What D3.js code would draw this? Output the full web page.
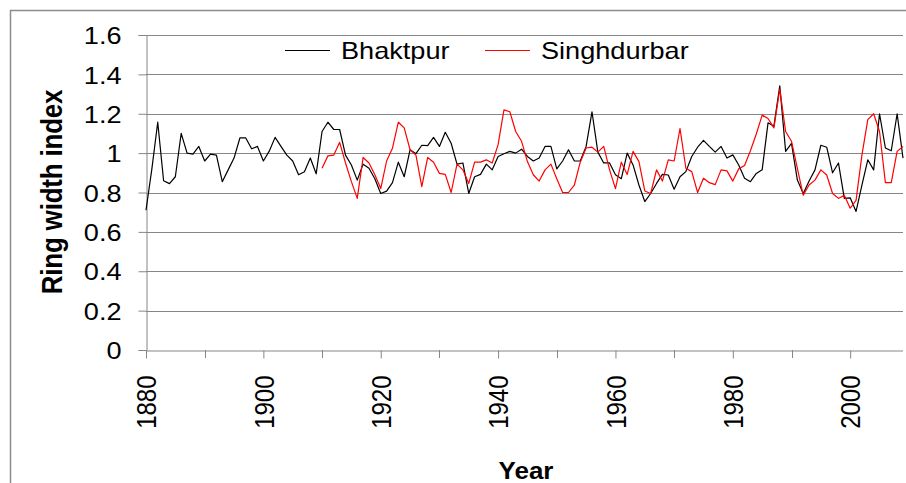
<!DOCTYPE html>
<html>
<head>
<meta charset="utf-8">
<script src="https://cdn.jsdelivr.net/npm/d3@7"></script>
<style>
  body { margin: 0; background: #fff; }
  svg { display: block; font-family: Arial, "Liberation Sans", sans-serif; }
</style>
</head>
<body>
<svg id="chart" width="906" height="483"></svg>
<script>
// Ring width index values
const bhaktpurStart = 1880;
const bhaktpur = [
  0.71, 0.92, 1.157, 0.86, 0.845, 0.88, 1.10, 1.0, 0.995, 1.034,
  0.96, 0.995, 0.99, 0.855, 0.915, 0.975, 1.077, 1.077, 1.022, 1.034,
  0.96, 1.01, 1.08, 1.034, 0.99, 0.96, 0.89, 0.905, 0.975, 0.895,
  1.11, 1.157, 1.12, 1.12, 0.99, 0.94, 0.863, 0.944, 0.923, 0.87,
  0.795, 0.807, 0.85, 0.954, 0.88, 1.017, 0.997, 1.04, 1.038, 1.08,
  1.034, 1.106, 1.05, 0.944, 0.95, 0.795, 0.88, 0.892, 0.944, 0.915,
  0.983, 0.997, 1.009, 1.0, 1.02, 0.983, 0.96, 0.975, 1.034, 1.034,
  0.92, 0.96, 1.017, 0.96, 0.96, 1.034, 1.21, 1.005, 0.95, 0.95,
  0.89, 0.87, 1.0, 0.94, 0.838, 0.754, 0.795, 0.846, 0.892, 0.889,
  0.817, 0.88, 0.906, 0.983, 1.03, 1.065, 1.034, 1.005, 1.034, 0.975,
  0.991, 0.94, 0.872, 0.855, 0.897, 0.915, 1.154, 1.137, 1.342, 1.009,
  1.05, 0.863, 0.795, 0.858, 0.915, 1.04, 1.03, 0.90, 0.95, 0.77,
  0.773, 0.704, 0.838, 0.966, 0.915, 1.2, 1.026, 1.012, 1.2, 0.975
];
const singhdurbarStart = 1910;
const singhdurbar = [
  0.923, 0.986, 0.99, 1.055, 0.95, 0.855, 0.77, 0.978, 0.95, 0.89,
  0.82, 0.96, 1.025, 1.157, 1.128, 1.017, 0.99, 0.83, 0.978, 0.954,
  0.897, 0.892, 0.80, 0.944, 0.915, 0.846, 0.954, 0.954, 0.966, 0.95,
  1.043, 1.22, 1.21, 1.11, 1.06, 0.957, 0.89, 0.858, 0.915, 0.944,
  0.87, 0.80, 0.80, 0.838, 0.954, 1.026, 1.03, 1.005, 1.034, 0.915,
  0.82, 0.954, 0.892, 1.009, 0.957, 0.808, 0.795, 0.915, 0.858, 0.966,
  0.96, 1.125, 0.923, 0.906, 0.80, 0.872, 0.85, 0.84, 0.915, 0.91,
  0.858, 0.92, 0.937, 1.012, 1.097, 1.193, 1.176, 1.128, 1.325, 1.11,
  1.06, 0.923, 0.786, 0.838, 0.863, 0.915, 0.889, 0.795, 0.77, 0.786,
  0.72, 0.76, 0.99, 1.17, 1.2, 1.11, 0.85, 0.85, 1.009, 1.034
];
const yTicks = [0, 0.2, 0.4, 0.6, 0.8, 1, 1.2, 1.4, 1.6];
const xLabels = [1880, 1900, 1920, 1940, 1960, 1980, 2000];
const xMinor = [1890, 1910, 1930, 1950, 1970, 1990];
const seriesNames = ["Bhaktpur", "Singhdurbar"];
const seriesColors = ["#000000", "#ff0000"];

const svg = d3.select("#chart");
const plotLeft = 146, plotRight = 903, plotTop = 35, plotBottom = 350;
const stretch = 1.13; // the original text looks a bit wide

const x = d3.scaleLinear().domain([1880, 2009]).range([plotLeft, plotRight]);
const y = d3.scaleLinear().domain([0, 1.6]).range([plotBottom, plotTop]);

// outer frame (cut off at right and bottom like the original)
svg.append("rect")
  .attr("x", 10.5).attr("y", 10.5)
  .attr("width", 920).attr("height", 500)
  .attr("fill", "none")
  .attr("stroke", "#8c8c8c")
  .attr("stroke-width", 1.5);

// horizontal gridlines
svg.append("g")
  .selectAll("line")
  .data(yTicks.filter(d => d > 0))
  .join("line")
  .attr("x1", plotLeft).attr("x2", plotRight)
  .attr("y1", d => Math.round(y(d)) + 0.5)
  .attr("y2", d => Math.round(y(d)) + 0.5)
  .attr("stroke", "#868686")
  .attr("stroke-width", 1);

// y axis
const yAxis = svg.append("g")
  .attr("transform", `translate(${plotLeft + 0.5},0)`)
  .call(d3.axisLeft(y).tickValues(yTicks).tickFormat(d3.format("~g")).tickSize(8));
yAxis.select(".domain").attr("stroke", "#868686");
yAxis.selectAll(".tick line").attr("stroke", "#868686");
yAxis.selectAll(".tick text")
  .attr("font-size", 24)
  .attr("fill", "#000")
  .attr("font-family", "Arial, 'Liberation Sans', sans-serif")
  .attr("text-anchor", "end")
  .attr("x", 0)
  .attr("dy", "0.36em")
  .attr("transform", `translate(-25,0) scale(${stretch},1)`);

// x axis
const xAxis = svg.append("g")
  .attr("transform", `translate(0,${plotBottom + 0.5})`)
  .call(d3.axisBottom(x).tickValues(xLabels).tickFormat(d3.format("d")).tickSize(8).tickSizeOuter(0));
xAxis.select(".domain").attr("stroke", "#868686").attr("d", `M${plotLeft},0.5H${plotRight}`);
xAxis.selectAll(".tick line").attr("stroke", "#868686");
xAxis.selectAll(".tick text")
  .attr("font-size", 24)
  .attr("fill", "#000")
  .attr("font-family", "Arial, 'Liberation Sans', sans-serif")
  .attr("text-anchor", "end")
  .attr("transform", `scale(${stretch},1) rotate(-90)`)
  .attr("x", -25)
  .attr("y", 0)
  .attr("dy", "0.36em");

svg.append("g")
  .selectAll("line")
  .data(xMinor)
  .join("line")
  .attr("x1", d => Math.round(x(d)) + 0.5)
  .attr("x2", d => Math.round(x(d)) + 0.5)
  .attr("y1", plotBottom).attr("y2", plotBottom + 8)
  .attr("stroke", "#868686");

// series lines
const line = d3.line()
  .x(d => x(d.year))
  .y(d => y(d.value));

const bData = bhaktpur.map((v, i) => ({ year: bhaktpurStart + i, value: v }));
const sData = singhdurbar.map((v, i) => ({ year: singhdurbarStart + i, value: v }));

svg.append("path")
  .datum(bData)
  .attr("fill", "none")
  .attr("stroke", seriesColors[0])
  .attr("stroke-width", 1.2)
  .attr("stroke-linejoin", "round")
  .attr("d", line);

svg.append("path")
  .datum(sData)
  .attr("fill", "none")
  .attr("stroke", seriesColors[1])
  .attr("stroke-width", 1.2)
  .attr("stroke-linejoin", "round")
  .attr("d", line);

// legend
const legendPos = [285, 485];
seriesNames.forEach((name, i) => {
  const g = svg.append("g").attr("transform", `translate(${legendPos[i]},50)`);
  g.append("line")
    .attr("x1", 0).attr("x2", 45)
    .attr("y1", 0.5).attr("y2", 0.5)
    .attr("stroke", seriesColors[i])
    .attr("stroke-width", 1.2);
  g.append("text")
    .attr("transform", `translate(56,0) scale(${stretch},1)`)
    .attr("dy", "0.36em")
    .attr("font-size", 24)
    .attr("fill", "#000")
    .text(name);
});

// axis titles
svg.append("text")
  .attr("transform", `translate(62,192) scale(${stretch},1) rotate(-90)`)
  .attr("text-anchor", "middle")
  .attr("font-size", 26)
  .attr("font-weight", "bold")
  .attr("letter-spacing", -0.2)
  .attr("fill", "#000")
  .text("Ring width index");

svg.append("text")
  .attr("transform", `translate(526,479) scale(${stretch},1)`)
  .attr("text-anchor", "middle")
  .attr("font-size", 23)
  .attr("font-weight", "bold")
  .attr("fill", "#000")
  .text("Year");
</script>
</body>
</html>
